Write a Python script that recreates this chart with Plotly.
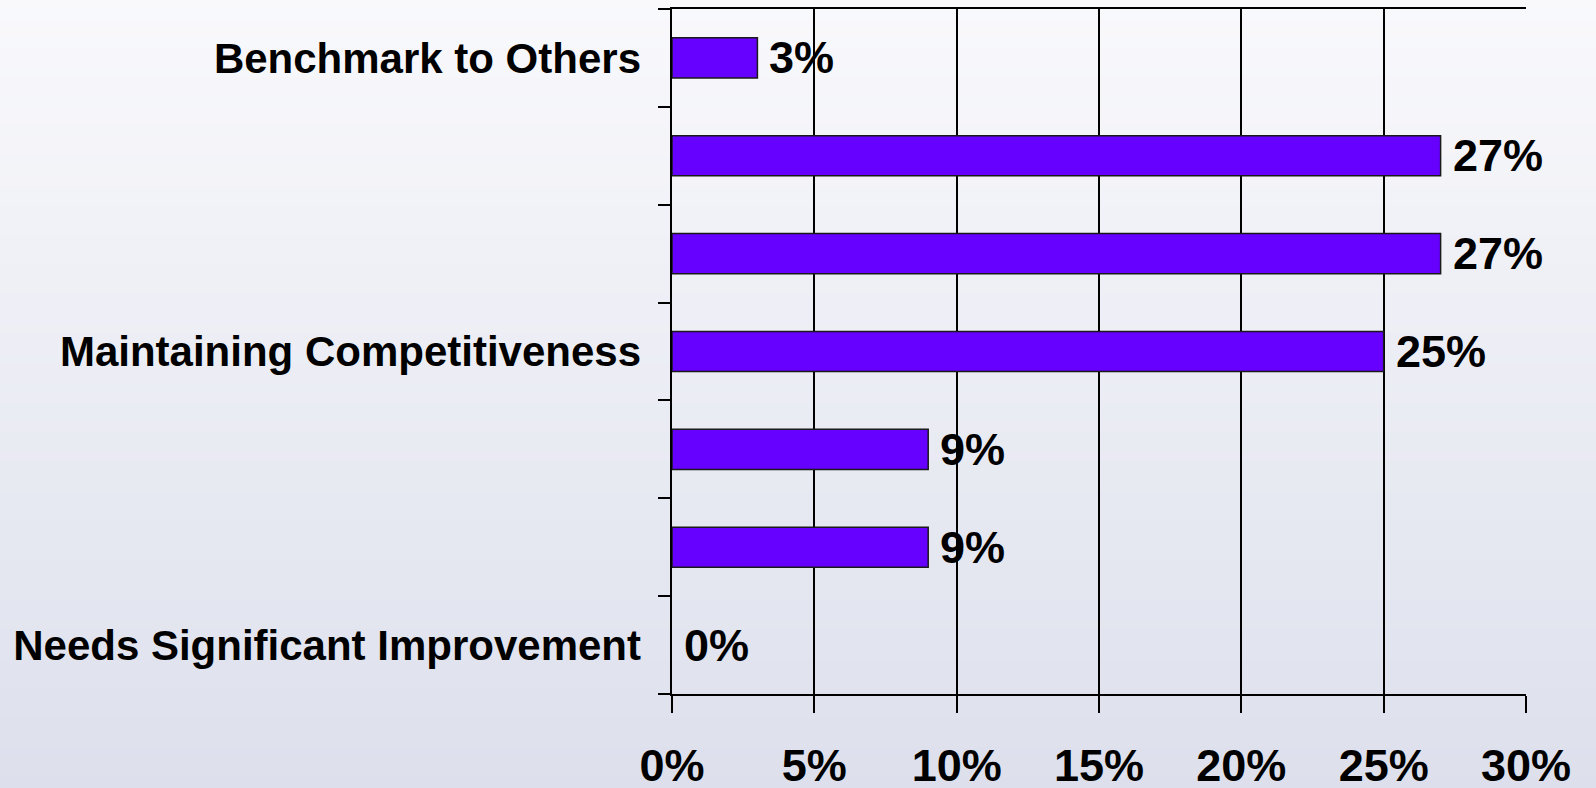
import plotly.graph_objects as go

# Data (top to bottom as shown)
categories = ["Benchmark to Others", "", "", "Maintaining Competitiveness", "", "", "Needs Significant Improvement"]
values = [3, 27, 27, 25, 9, 9, 0]
x_ticks = [0, 5, 10, 15, 20, 25, 30]
shown_labels = ["Benchmark to Others", "Maintaining Competitiveness", "Needs Significant Improvement"]

n = len(values)
ypos = [n - 1 - i for i in range(n)]  # top category gets highest y

W, H = 1596, 788
ML, MR, MT, MB = 672, 70, 9, 94
PW, PH = W - ML - MR, H - MT - MB

FONT = "Liberation Sans, Arial, sans-serif"

fig = go.Figure()
fig.add_trace(go.Bar(
    x=values, y=ypos, orientation="h", width=0.41,
    marker=dict(color="#6600FF",
                line=dict(color="#1a1a1a", width=[1.5 if v > 0 else 0 for v in values])),
    hoverinfo="skip", showlegend=False,
))
# invisible trace on yaxis2 for category labels
fig.add_trace(go.Scatter(x=[0], y=[0], yaxis="y2", mode="markers",
                         marker=dict(opacity=0), showlegend=False, hoverinfo="skip"))

# data labels
for v, y in zip(values, ypos):
    fig.add_annotation(x=v, y=y, text=f"{v}%", showarrow=False, xanchor="left",
                       yanchor="middle", xshift=10,
                       font=dict(family=FONT, size=45, color="black", weight="bold"))

# gradient background via strips
top = (249, 249, 252)
bot = (221, 224, 236)
N = 80
y_lo = -MB / PH
y_hi = 1 + MT / PH
x_lo = -ML / PW
x_hi = 1 + MR / PW
shapes = []
for i in range(N):
    t = (i + 0.5) / N
    c = tuple(round(top[k] + (bot[k] - top[k]) * t) for k in range(3))
    y1 = y_hi - (y_hi - y_lo) * i / N
    y0 = y_hi - (y_hi - y_lo) * (i + 1) / N
    shapes.append(dict(type="rect", xref="paper", yref="paper", x0=x_lo, x1=x_hi,
                       y0=y0 - 0.002, y1=y1 + 0.002, line=dict(width=0),
                       fillcolor="rgb(%d,%d,%d)" % c, layer="below"))

label_pos = [ypos[categories.index(s)] for s in shown_labels]

fig.update_layout(
    width=W, height=H,
    margin=dict(l=ML, r=MR, t=MT, b=MB, pad=0, autoexpand=False),
    paper_bgcolor="rgba(0,0,0,0)", plot_bgcolor="rgba(0,0,0,0)",
    shapes=shapes,
    xaxis=dict(range=[0, 30], tickvals=x_ticks, ticktext=[f"{t}%" for t in x_ticks],
               showgrid=True, gridcolor="black", gridwidth=1.5, automargin=False,
               showline=True, linecolor="black", linewidth=1.5, mirror=True,
               ticks="outside", ticklen=17, tickwidth=1.5, tickcolor="black",
               ticklabelstandoff=14, zeroline=False,
               tickfont=dict(family=FONT, size=45, color="black", weight="bold")),
    yaxis=dict(range=[-0.5, n - 0.5], tickvals=[i + 0.5 for i in range(-1, n)],
               showticklabels=False, ticks="outside", ticklen=12, tickwidth=1.5,
               tickcolor="black", showgrid=False, zeroline=False, automargin=False,
               showline=True, linecolor="black", linewidth=1.5),
    yaxis2=dict(range=[-0.5, n - 0.5], overlaying="y", side="left",
                tickvals=label_pos, ticktext=shown_labels, ticks="",
                showgrid=False, zeroline=False, showline=False, automargin=False,
                ticklabelstandoff=30,
                tickfont=dict(family=FONT, size=42, color="black", weight="bold")),
)

fig.write_html("out.html")
